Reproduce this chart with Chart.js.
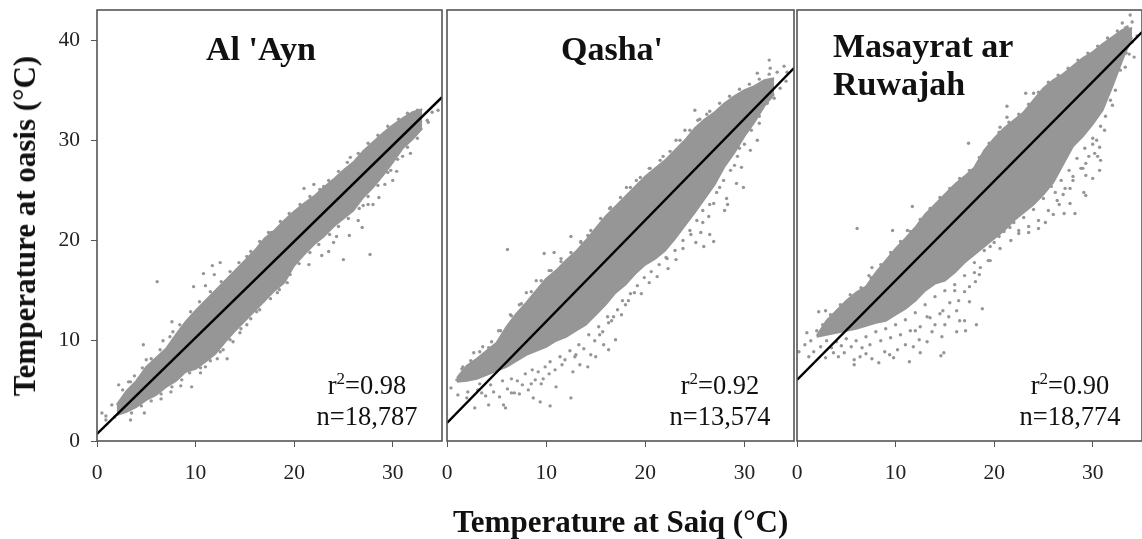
<!DOCTYPE html>
<html>
<head>
<meta charset="utf-8">
<script src="https://cdn.jsdelivr.net/npm/chart.js@4"></script>
<style>
  html, body { margin: 0; padding: 0; background: #fff; width: 1142px; height: 539px; overflow: hidden; }
  canvas { position: absolute; top: 0; display: block; }
  .txt { position: absolute; font-family: "Liberation Serif", serif; color: #111; white-space: nowrap; }
  .bold { font-weight: bold; }
  .name { font-size: 34px; line-height: 38px; }
  .axis { font-size: 31px; }
  .stat { font-size: 26.5px; line-height: 31px; text-align: center; }
  .stat sup { font-size: 17px; line-height: 0; }
</style>
</head>
<body>
<canvas id="c1" width="460" height="490" style="left:0"></canvas>
<canvas id="c2" width="385" height="490" style="left:427px"></canvas>
<canvas id="c3" width="369" height="490" style="left:777px"></canvas>

<div class="txt bold name" style="left:206px;top:30px">Al 'Ayn</div>
<div class="txt bold name" style="left:561px;top:30px">Qasha'</div>
<div class="txt bold name" style="left:833px;top:27px">Masayrat ar<br>Ruwajah</div>
<div class="txt stat" style="left:302px;top:370px;width:130px">r<sup>2</sup>=0.98<br>n=18,787</div>
<div class="txt stat" style="left:655px;top:370px;width:130px">r<sup>2</sup>=0.92<br>n=13,574</div>
<div class="txt stat" style="left:1005px;top:370px;width:130px">r<sup>2</sup>=0.90<br>n=18,774</div>
<div class="txt bold axis" style="left:453px;top:504px">Temperature at Saiq (°C)</div>
<div class="txt bold axis" id="ytitle" style="left:25px;top:226px;transform:translate(-50%,-50%) rotate(-90deg)">Temperature at oasis (°C)</div>

<script>
// valores
const xTicks = [0, 10, 20, 30];
const yTicks = [0, 10, 20, 30, 40];

// Al 'Ayn
const aynLine = [[0, 0.7], [35, 34.3]];
const aynX = [2, 3, 4, 5, 6, 7, 8, 9, 10, 11, 12, 13, 14, 15, 16, 17, 18, 19, 20, 21, 22, 23, 24, 25, 26, 27, 28, 29, 30, 31, 32, 33];
const aynHigh = [3.6, 5, 6, 7.4, 8.3, 9.2, 10.6, 11.9, 13, 14, 15, 16, 17, 18, 19, 20.2, 21, 22, 22.9, 23.7, 24.4, 25.3, 26.1, 27, 27.8, 28.9, 29.8, 30.7, 31.5, 32.2, 32.8, 33.1];
const aynLow = [2.6, 2.9, 3.4, 4.1, 4.6, 5.4, 6, 6.9, 7.2, 7.9, 8.7, 9.9, 11, 12, 13, 14, 15, 15.8, 17.5, 18.6, 19.6, 20.4, 21.4, 22.2, 23, 24.3, 25.3, 26.5, 27.8, 29.2, 30.1, 31.2];
const aynDots = [[11.7,17.5],[12.5,17.8],[21,25.2],[22,25.6],[23,25.4],[25.7,28.3],[27.7,18.6],[25,18.1],[26.5,22],[26.9,21.3],[25.6,20.5],[23.5,18.9],[24,19.8],[27.5,23.6],[27,23.5],[30.4,26.9],[31.8,28.7],[31,28.4],[32.3,32.7],[34.6,33],[34,32.8],[33.6,31.8],[17.7,20.8],[16.7,19.8],[15.2,18.4],[6.1,15.9],[9.8,15.4],[11,15.5],[10.8,16.7],[11.9,16.6],[7.6,11.9],[7.7,10.9],[4.7,9.6],[2.2,5.6],[0.5,2.8],[0.9,2.5],[0.9,2.1],[3.4,2.1],[4.8,2.8],[9.6,5.4],[10.5,6.8],[11,7.4],[13.2,8.2],[12.8,9.1],[13.8,9.9],[15.2,11.6],[16.2,12.9],[18.3,14.8],[19.3,15.8],[17,14.3],[6.7,10],[5,8.1],[1.5,3.6],[1.8,2.4],[2.6,5.1],[3.2,5.9],[3.8,6.5],[4.2,6.2],[8.5,5.5],[7.5,4.9],[6.5,4.2],[12.2,8.2],[14.5,10.8],[21.5,17.6],[22.8,18.5],[24.3,20.4],[29.2,25.6],[30,26],[29.8,27],[28,23.6],[28.6,24.3],
  [3.4,5.9],[4.6,7.3],[5.5,8.2],[6.4,9.1],[7.4,10.4],[8.4,11.6],[9.5,12.9],[10.4,13.9],[11.5,14.9],[12.6,15.9],[13.5,16.9],[14.4,17.8],[15.6,18.9],[16.5,19.9],[17.4,20.8],[18.6,21.9],[19.5,22.7],[20.6,23.6],[21.6,24.4],[22.6,25.1],[23.5,26],[24.5,26.9],[25.4,27.8],[26.5,28.7],[27.5,29.7],[28.5,30.5],[29.5,31.4],[30.6,32.1],[31.5,32.7],[32.5,33],
  [3.5,2.8],[4.5,3.5],[5.5,4],[6.5,4.7],[7.6,5.4],[8.6,6.1],[9.4,6.8],[10.5,7.3],[11.5,8],[12.5,8.9],[13.5,10.1],[14.6,11.2],[15.6,12.2],[16.5,13.1],[17.6,14.2],[18.5,15.1],[19.6,16.6],[20.5,17.7],[21.6,18.8],[22.5,19.6],[23.6,20.6],[24.5,21.4],[25.5,22.2],[26.6,23.2],[27.5,24.4],[28.5,25.5],[29.5,26.8],[30.5,28.1],[31.5,29.3],[32.5,30.2],[33.5,32]];

// Qasha'
const qashaLine = [[0, 1.8], [35, 37.2]];
const qashaX = [1, 2, 3, 4, 5, 6, 7, 8, 9, 10, 11, 12, 13, 14, 15, 16, 17, 18, 19, 20, 21, 22, 23, 24, 25, 26, 27, 28, 29, 30, 31, 32, 33];
const qashaHigh = [6.3, 7.5, 8.2, 9, 9.8, 11.4, 12.7, 13.8, 15, 16.2, 17, 18, 18.9, 20, 21.2, 22.4, 23.4, 24.4, 25.4, 26.4, 27.2, 28, 29, 30, 31.2, 32.1, 32.8, 33.7, 34.4, 35, 35.4, 36, 36.2];
const qashaLow = [5.9, 6, 6.2, 6.6, 7, 7.4, 8, 8.6, 9, 9.4, 10, 10.4, 11, 11.6, 12.6, 13.6, 14.8, 15.6, 16.7, 17.6, 18.2, 19, 20.2, 21.5, 22.8, 24.2, 25.6, 27.4, 28.8, 30.4, 31.8, 33.4, 34.6];
const qashaDots = [[32.5,38],[34,37.4],[32.6,37.2],[34.3,36.8],[31.3,36.7],[25,33],[26.2,32.6],[23.1,30],[21.8,28.4],[19.1,26],[29.9,25.3],[29.2,25.7],[28.2,24.2],[28,23],[28.3,23.6],[29.7,27.3],[29,27.5],[31.5,31.7],[31.3,30],[30.6,29],[29.5,29.2],[26.4,22.4],[26.9,23.7],[27.5,25.3],[25.8,21.8],[6.1,19.1],[9.8,18.7],[10.8,18.8],[12.5,20.4],[14.2,20.5],[7.3,13.6],[4.2,9.3],[0.4,5.3],[1,6.1],[1.1,4.6],[2.8,3.3],[4.2,3.6],[5.9,3.3],[5.7,3.6],[10.4,3.5],[9.4,3.9],[12.5,4.3],[8.7,4.3],[11,5.4],[12.7,6.9],[14.2,7.4],[13.4,7.6],[15,8.4],[14.5,8.6],[16.3,9.1],[17,10.1],[15.8,9.6],[16.3,11.8],[17.6,12.6],[19.6,14.7],[18.9,14.8],[18.3,14],[23.1,18.1],[22.1,18.3],[25.9,19.4],[25.1,19.8],[26.9,19.9],[26.5,20.6],[25.6,20.8],[2,4.3],[3.5,4.8],[6.5,4.8],[7.3,4.7],[8.5,5.7],[9.7,6.2],[10.3,6.7],[11.6,7.6],[13,8.6],[15.4,10.6],[16.8,12.4],[18,13.6],[20.4,15.8],[21.2,16.4],[22.3,17.2],[23.8,19.2],[24.6,20.6],[1.5,7.2],[2.7,8.8],[3.6,9.4],[5.2,11],[6.4,12.6],[8,14.8],[9,16],[10.3,17],[11.5,18.2],[13.5,19.8],[16.4,23.2],[18.1,25.3],[20.4,27.2],[24,31],[25.3,32],
  [2.1,4.9],[3.1,5.1],[3.9,4.5],[4.7,4.9],[5.3,4.4],[6.1,5.2],[6.8,4.8],[7.6,5.6],[8.2,5.1],[8.9,6.1],[9.5,5.7],[3.3,5.7],[4.4,5.6],[5.6,6],[6.5,6.2],[7.1,6],[7.9,6.7],[8.6,7.1],[9.2,6.9],[9.9,7.4],[10.4,7.9],[10.9,7.1],[11.4,8.4],[11.9,8.1],[12.4,9],[12.9,8.4],[13.3,9.6],[13.8,9.2],[14.3,10.6],[14.9,10],[15.3,11.4],[15.7,10.9],[16.2,12.4],[16.6,12],[17.2,13.1],[17.7,14],[18.5,14.7],[19.2,15.5],[19.9,16.3],[20.6,16.9],[21.4,17.6],[22.2,18.2],[23,19],[23.8,20],[24.5,21],[25.2,22],[25.8,23],[26.5,23.6],[27.2,24.8],[27.9,26],[28.6,27],[29.3,28.4],[30,29.6],[30.7,31],[31.5,32.4],[32.3,33.7],[33,34.2],[33.6,35.2],[34.2,35.9],
  [1.6,7.4],[2.4,8],[3.3,8.9],[4.5,9.9],[5.4,11],[6.5,12.5],[7.5,13.7],[8.5,14.9],[9.5,16],[10.5,17],[11.5,17.9],[12.5,18.8],[13.5,19.9],[14.5,21],[15.5,22.2],[16.5,23.3],[17.5,24.3],[18.5,25.3],[19.5,26.3],[20.5,27.2],[21.5,28],[22.5,28.9],[23.5,30],[24.5,31],[25.5,32.1],[26.5,32.9],[27.5,33.7],[28.5,34.4],[29.5,35.1],[30.5,35.6],[31.5,36.1],[32.5,36.6],[33.3,36.8]];

// Masayrat ar Ruwajah
const masaLine = [[0, 6.1], [35, 40.8]];
const masaX = [2, 3, 4, 5, 6, 7, 8, 9, 10, 11, 12, 13, 14, 15, 16, 17, 18, 19, 20, 21, 22, 23, 24, 25, 26, 27, 28, 29, 30, 31, 32, 33, 34];
const masaHigh = [10.5, 12, 13, 14, 14.8, 15.4, 16.8, 18, 19.2, 20.2, 21.3, 22.6, 23.6, 24.6, 25.6, 26.4, 27.3, 29, 30.2, 31.2, 32, 32.8, 34, 35.2, 36, 36.6, 37.4, 38.2, 38.8, 39.6, 40.3, 41, 41.2];
const masaLow = [10.4, 10.6, 10.8, 11, 11.2, 11.5, 11.8, 12, 12.6, 13.2, 14, 15, 15.7, 16, 16.8, 17.8, 18.6, 19.4, 20.2, 21, 22, 22.8, 23.6, 24.6, 25.8, 27.6, 29.4, 30.4, 31.6, 33, 35.4, 38, 40.3];
const masaDots = [[33.8,42.5],[34,41.8],[33,41.7],[33.3,41.2],[33.3,37.3],[34.2,38.3],[33.7,38.6],[33.3,39.3],[30.8,28],[30.5,28.4],[29.3,27.7],[30.7,27],[30,26.2],[29.3,26.5],[29.1,24.8],[29.3,24.5],[27.7,25.2],[26.2,24.8],[28.2,22.7],[27.7,23.7],[26.6,23.6],[27.1,22.7],[30.7,29.3],[30.2,28.7],[23.2,34.7],[24,34.7],[21.3,33.4],[21.3,32.3],[20.6,31.3],[17.4,29.7],[11.7,23.4],[6.1,21.2],[9.7,21],[11.2,21],[7.6,17.3],[7.3,16.5],[2.9,13],[2.2,12.9],[4.1,13],[1,10.8],[0.2,8.9],[1.2,8.4],[1.7,8.9],[2.9,8.3],[4.8,8.8],[5.8,7.6],[5.8,8.1],[6.4,8.4],[8.3,7.8],[9.8,8.3],[9.4,8.6],[11.4,7.9],[12.5,8.8],[14.9,8.8],[14.6,8.5],[13.7,10.9],[14.7,10.4],[16.2,10.9],[17.1,11],[18.2,11.6],[17,12],[18.8,13.2],[17.5,13.9],[16.2,13],[15,11.6],[18.1,15.9],[18.6,17.3],[19.6,18],[18,16.8],[19.6,19.4],[17,14.9],[16,15],[8.9,8.9],[11,9.6],[12.4,10.1],[14,11.6],[7,8.7],[3.7,8.8],[4.2,8.4],[7.6,8.2],[10.2,9.1],[11.8,9.4],[13.2,9.9],[15.4,12.4],[16.5,12],[14.8,13],[13.2,12.4],[12,11],[20.6,19.2],[21.7,20],[22.5,20.7],[23.5,20.8],[24.5,21.2],[25.2,21.8],[26,22.6],[27,24.6],[28,26],[29,27.2],[30,29.6],[31.2,31],[32,33.5],[1.4,10],[2,11],[0.8,9.6],
  [2.4,9.4],[3,10],[3.5,9.3],[4,9.9],[4.5,9.5],[5,10.2],[5.5,9.4],[6,10],[6.6,9.3],[7,10.4],[7.4,9.6],[8,10.9],[8.5,10],[9,11.2],[9.5,10.3],[10,11.6],[10.5,10.6],[11,12.1],[11.5,11],[12,12.8],[12.5,11.4],[13,13.6],[13.5,12.3],[14,14.4],[14.5,12.7],[15,15],[15.5,13.8],[16,15.6],[16.4,14],[17,16.5],[17.5,15.4],[18,17.8],[18.5,16.6],[19,19],[19.4,18],[20,19.8],[20.5,20.4],[21,20.9],[21.6,21.3],[22,21.8],[22.5,21],[23,22.3],[23.5,21.4],[24,23.1],[24.5,22],[25,24.2],[25.5,23],[25.8,25.4],[26.4,24],[26.8,26],[27.2,25.2],[27.6,27],[28,26.4],[28.4,28.2],[28.8,27.2],[29.2,29.2],[29.6,28.4],[30,30.2],[30.4,30],[30.8,31.4],[31.3,32.4],[31.8,34],[32.3,35],[32.8,37],[33.4,38.7],[34,39.8],[34.5,40.4],
  [2.6,11.6],[3.4,12.6],[4.4,13.6],[5.4,14.6],[6.5,15.3],[7.5,16.3],[8.5,17.6],[9.5,18.8],[10.5,19.9],[11.5,20.9],[12.5,22.1],[13.5,23.2],[14.5,24.3],[15.5,25.2],[16.5,26.2],[17.5,27],[18.5,28.3],[19.5,29.7],[20.5,30.8],[21.5,31.8],[22.5,32.6],[23.5,33.6],[24.5,34.8],[25.5,35.8],[26.5,36.5],[27.5,37.2],[28.5,38],[29.5,38.7],[30.5,39.4],[31.5,40.2],[32.5,40.9],[33.5,41.3]];

const grisPunto = "#969696";

// dibuja el marco completo del panel
const marco = {
  id: "marco",
  afterDraw(chart) {
    const { ctx, chartArea: a } = chart;
    ctx.save();
    ctx.strokeStyle = "#555";
    ctx.lineWidth = 1.6;
    ctx.strokeRect(a.left, a.top, a.right - a.left, a.bottom - a.top);
    ctx.restore();
  }
};

function pares(xs, ys) {
  return xs.map((x, i) => ({ x: x, y: ys[i] }));
}

function panel(id, xs, low, high, dots, linea, conEjeY, padLeft, padRight) {
  new Chart(document.getElementById(id), {
    type: "scatter",
    data: {
      datasets: [
        { // franja densa de puntos
          data: pares(xs, low), showLine: true, borderColor: grisPunto, borderWidth: 2,
          pointRadius: 0, tension: 0, fill: false, order: 3
        },
        {
          data: pares(xs, high), showLine: true, borderColor: grisPunto, borderWidth: 2,
          backgroundColor: grisPunto, pointRadius: 0, tension: 0, fill: "-1", order: 2
        },
        { // puntos sueltos
          data: dots.map(p => ({ x: p[0], y: p[1] })), pointRadius: 1.7, borderWidth: 0,
          backgroundColor: grisPunto, order: 1
        },
        { // recta de regresion
          data: linea.map(p => ({ x: p[0], y: p[1] })), showLine: true, borderColor: "#000",
          borderWidth: 2.4, pointRadius: 0, tension: 0, fill: false, order: 0
        }
      ]
    },
    options: {
      responsive: false,
      animation: false,
      layout: { padding: { top: 10, right: padRight, left: 0, bottom: 0 } },
      plugins: { legend: { display: false }, tooltip: { enabled: false } },
      scales: {
        x: {
          type: "linear", min: 0, max: 35,
          afterBuildTicks: s => { s.ticks = xTicks.map(v => ({ value: v })); },
          afterFit: s => { s.height = 49; s.paddingLeft = 0; s.paddingRight = 0; },
          grid: { drawOnChartArea: false, drawTicks: true, tickLength: 6, color: "#555" },
          border: { display: false },
          ticks: { color: "#222", padding: 13, maxRotation: 0, font: { family: "Liberation Serif", size: 21.5 } }
        },
        y: {
          type: "linear", min: 0, max: 43,
          afterBuildTicks: s => { s.ticks = yTicks.map(v => ({ value: v })); },
          afterFit: s => { s.width = padLeft; s.paddingTop = 0; s.paddingBottom = 0; },
          grid: { drawOnChartArea: false, drawTicks: conEjeY, tickLength: 6, color: "#555" },
          border: { display: false },
          ticks: { display: conEjeY, color: "#222", padding: 11, font: { family: "Liberation Serif", size: 21.5 } }
        }
      }
    },
    plugins: [marco]
  });
}

panel("c1", aynX, aynLow, aynHigh, aynDots, aynLine, true, 97, 18);
panel("c2", qashaX, qashaLow, qashaHigh, qashaDots, qashaLine, false, 20, 18);
panel("c3", masaX, masaLow, masaHigh, masaDots, masaLine, false, 20, 0);
</script>
</body>
</html>
